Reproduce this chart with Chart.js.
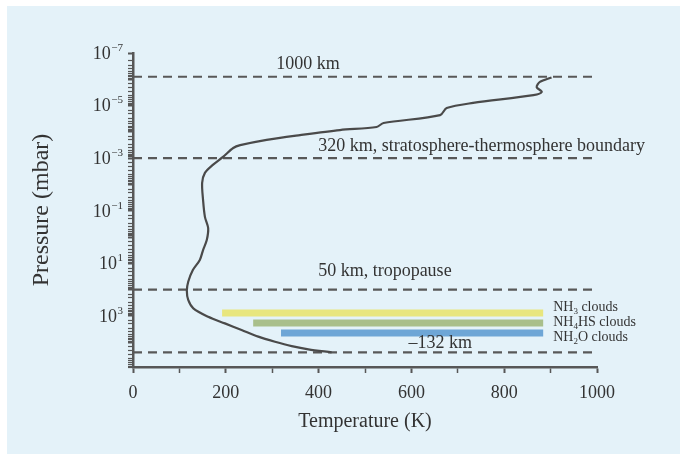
<!DOCTYPE html>
<html>
<head>
<meta charset="utf-8">
<script src="https://cdn.jsdelivr.net/npm/chart.js@4/dist/chart.umd.min.js"></script>
<style>
  html, body { margin: 0; padding: 0; background: #fff; }
  #wrap { width: 680px; height: 455px; }
</style>
</head>
<body>
<div id="wrap"><canvas id="perfil" width="680" height="455"></canvas></div>
<script>
// =========================
// DATOS
// =========================
// perfil de temperatura, de abajo (alta presión) hacia arriba
const temperatureK = [428, 378, 342, 306, 270, 234, 198, 162, 130, 119, 116, 119, 129, 144, 151, 159, 162, 155,
    151, 149, 155, 172, 194, 216, 231, 288, 360, 446, 525, 540, 662, 676, 733, 863, 881, 870, 877, 902];
const pressureMbar = [24000, 18500, 13900, 9500, 6100, 3400, 1910, 1070, 510, 245, 110, 50, 18, 7.4, 3.1, 1.3, 0.45, 0.17,
    0.039, 0.0087, 0.0036, 0.0018, 0.00089, 0.00041, 0.00032, 0.0002, 0.000132, 0.000085, 0.000065,
    0.000046, 0.000023, 0.0000124, 0.0000079, 0.000004, 0.000003, 0.000002, 0.00000126, 0.00000085];

// niveles de referencia (líneas discontinuas)
const levelLabels   = ['1000 km', '320 km, stratosphere-thermosphere boundary', '50 km, tropopause', '\u2013132 km'];
const levelPressure = [8e-7, 1e-3, 100, 24000];
const levelTempSpan = [0, 990];

// capas de nubes
const cloudMain   = ['NH', 'NH', 'NH'];
const cloudSub    = ['3', '4', '2'];
const cloudRest   = [' clouds', 'HS clouds', 'O clouds'];
const cloudPressure = [770, 1860, 4430];
const cloudTempFrom = [192, 259, 319];
const cloudTempTo   = [884, 884, 884];
const cloudColors   = ['#e8e67e', '#a9bf8b', '#6ea6d6'];

// ejes
const yLabelExponents = [-7, -5, -3, -1, 1, 3];
const xMin = 0, xMax = 1000, xStep = 100, xLabelStep = 200;
const yMin = 1e-7, yMax = 8.7e4;

const SERIF = '"Liberation Serif", "Times New Roman", serif';
const TEXT = '#333';
const AXIS = '#575757';

// =========================
// DATASETS
// =========================
const datasets = [];

datasets.push({
    label: 'Temperatura',
    data: temperatureK.map((t, i) => ({ x: t, y: pressureMbar[i] })),
    borderColor: '#4a4a4a',
    borderWidth: 2.2,
    pointRadius: 0,
    tension: 0.3,
    fill: false
});

cloudMain.forEach((n, i) => {
    datasets.push({
        label: n + cloudSub[i] + cloudRest[i],
        data: [{ x: cloudTempFrom[i], y: cloudPressure[i] }, { x: cloudTempTo[i], y: cloudPressure[i] }],
        borderColor: cloudColors[i],
        borderWidth: 7,
        borderCapStyle: 'butt',
        pointRadius: 0,
        fill: false
    });
});

levelLabels.forEach((name, i) => {
    datasets.push({
        label: name,
        data: levelTempSpan.map(t => ({ x: t, y: levelPressure[i] })),
        borderColor: '#585858',
        borderWidth: 2.2,
        borderDash: [9, 6],
        borderCapStyle: 'butt',
        pointRadius: 0,
        fill: false
    });
});

// =========================
// PLUGINS DE DIBUJO
// =========================
const fondo = {
    id: 'fondo',
    beforeDraw(chart) {
        const ctx = chart.ctx;
        ctx.save();
        ctx.fillStyle = '#ffffff';
        ctx.fillRect(0, 0, chart.width, chart.height);
        ctx.fillStyle = '#e4f2f9';
        ctx.fillRect(7, 6, chart.width - 7, 448);
        ctx.restore();
    }
};

// texto con subíndice: partes [normal, sub, normal]
function drawSubText(ctx, x, y, main, sub, rest, size) {
    ctx.font = size + 'px ' + SERIF;
    ctx.fillText(main, x, y);
    x += ctx.measureText(main).width;
    ctx.font = Math.round(size * 0.62) + 'px ' + SERIF;
    ctx.fillText(sub, x, y + size * 0.3);
    x += ctx.measureText(sub).width;
    ctx.font = size + 'px ' + SERIF;
    ctx.fillText(rest, x, y);
}

const textos = {
    id: 'textos',
    afterDraw(chart) {
        const ctx = chart.ctx;
        const xs = chart.scales.x;
        const ys = chart.scales.y;
        ctx.save();
        ctx.fillStyle = TEXT;
        ctx.textBaseline = 'middle';

        // etiquetas del eje Y: 10 con exponente
        yLabelExponents.forEach(e => {
            const y = ys.getPixelForValue(Math.pow(10, e));
            const sup = e < 0 ? '\u2212' + Math.abs(e) : String(e);
            ctx.font = '11px ' + SERIF;
            const wSup = ctx.measureText(sup).width;
            const right = ys.right - 10;
            ctx.textAlign = 'left';
            ctx.fillText(sup, right - wSup, y - 5);
            ctx.font = '18px ' + SERIF;
            ctx.textAlign = 'right';
            ctx.fillText('10', right - wSup - 0.5, y + 1);
        });

        // títulos de ejes
        ctx.textAlign = 'center';
        ctx.font = '20px ' + SERIF;
        ctx.fillText('Temperature (K)', (xs.left + xs.right) / 2, 422);
        ctx.save();
        ctx.translate(42, 210);
        ctx.rotate(-Math.PI / 2);
        ctx.font = '24px ' + SERIF;
        ctx.fillText('Pressure (mbar)', 0, 0);
        ctx.restore();

        // nombres de los niveles
        const place = [
            { t: 377, align: 'center', dy: -12 },
            { t: 399, align: 'left', dy: -12 },
            { t: 399, align: 'left', dy: -18 },
            { t: 662, align: 'center', dy: -9 }
        ];
        ctx.font = '18px ' + SERIF;
        levelLabels.forEach((name, i) => {
            ctx.textAlign = place[i].align;
            ctx.fillText(name, xs.getPixelForValue(place[i].t), ys.getPixelForValue(levelPressure[i]) + place[i].dy);
        });

        // nombres de las nubes
        const dyNube = [-6, -1, 4];
        ctx.textAlign = 'left';
        cloudMain.forEach((n, i) => {
            const x = xs.getPixelForValue(cloudTempTo[i]) + 10;
            const y = ys.getPixelForValue(cloudPressure[i]) + dyNube[i];
            drawSubText(ctx, x, y, n, cloudSub[i], cloudRest[i], 14);
        });
        ctx.restore();
    }
};

// =========================
// GRÁFICO
// =========================
new Chart(document.getElementById('perfil'), {
    type: 'line',
    data: { datasets },
    options: {
        responsive: false,
        animation: false,
        layout: { padding: { top: 53, right: 83, bottom: 0, left: 0 } },
        plugins: {
            legend: { display: false },
            tooltip: { enabled: false }
        },
        scales: {
            x: {
                type: 'linear',
                min: xMin,
                max: xMax,
                afterFit: s => { s.height = 88; },
                ticks: {
                    stepSize: xStep,
                    autoSkip: false,
                    maxRotation: 0,
                    padding: 9,
                    color: TEXT,
                    font: { family: SERIF, size: 18 },
                    callback: v => (v % xLabelStep === 0 ? v : '')
                },
                grid: {
                    drawOnChartArea: false,
                    drawTicks: true,
                    tickLength: 6,
                    tickColor: AXIS,
                    tickWidth: c => (c.tick && c.tick.value % xLabelStep === 0 ? 2 : 1.5)
                },
                border: { color: AXIS, width: 2.5 }
            },
            y: {
                type: 'logarithmic',
                reverse: true,
                min: yMin,
                max: yMax,
                afterFit: s => { s.width = 133; },
                ticks: {
                    autoSkip: false,
                    callback: () => ''
                },
                grid: {
                    drawOnChartArea: false,
                    drawTicks: true,
                    tickLength: 5,
                    tickColor: AXIS,
                    tickWidth: c => {
                        if (!c.tick) return 1.2;
                        const e = Math.log10(c.tick.value);
                        return Math.abs(e - Math.round(e)) < 1e-6 ? 2 : 1.2;
                    }
                },
                border: { color: AXIS, width: 2.5 }
            }
        }
    },
    plugins: [fondo, textos]
});
</script>
</body>
</html>
